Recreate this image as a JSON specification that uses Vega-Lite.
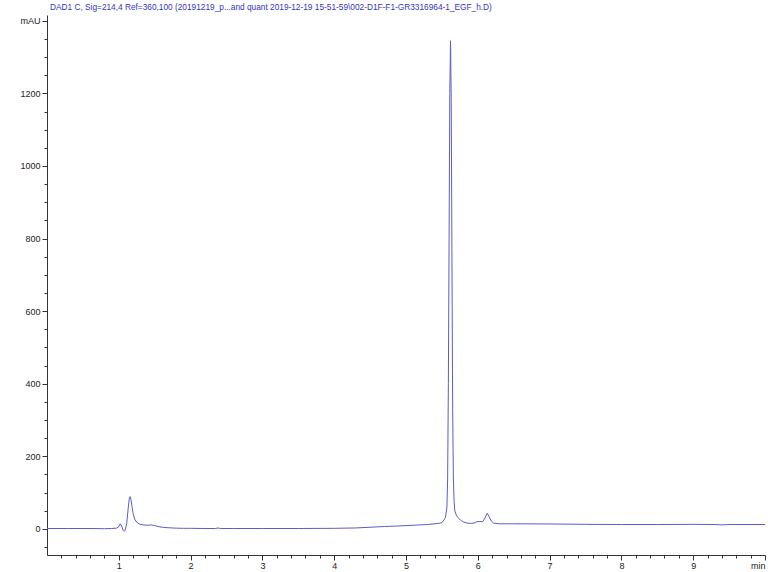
{
  "$schema": "https://vega.github.io/schema/vega-lite/v6.json",
  "width": 718,
  "height": 540,
  "autosize": "none",
  "padding": {"left": 47, "top": 15, "right": 3, "bottom": 17},
  "background": "white",
  "config": {
    "view": {"stroke": null},
    "font": "Liberation Sans"
  },
  "title": {
    "text": "DAD1 C, Sig=214,4 Ref=360,100 (20191219_p...and quant 2019-12-19 15-51-59\\002-D1F-F1-GR3316964-1_EGF_h.D)",
    "anchor": "start",
    "frame": "group",
    "dx": 3,
    "offset": 4,
    "fontSize": 8.3,
    "fontWeight": "normal",
    "font": "Liberation Sans",
    "color": "#3333c4"
  },
  "data": {
    "values": [
      {"t": 0.0, "v": 1}, {"t": 0.3, "v": 1}, {"t": 0.6, "v": 1}, {"t": 0.8, "v": 0.5},
      {"t": 0.9, "v": 1}, {"t": 0.97, "v": 2}, {"t": 1.0, "v": 6}, {"t": 1.02, "v": 14},
      {"t": 1.04, "v": 8}, {"t": 1.06, "v": -4}, {"t": 1.075, "v": -7}, {"t": 1.09, "v": -3},
      {"t": 1.11, "v": 15}, {"t": 1.13, "v": 55}, {"t": 1.145, "v": 82}, {"t": 1.157, "v": 89},
      {"t": 1.17, "v": 80}, {"t": 1.185, "v": 60}, {"t": 1.2, "v": 42}, {"t": 1.22, "v": 27},
      {"t": 1.25, "v": 18}, {"t": 1.29, "v": 13}, {"t": 1.34, "v": 11}, {"t": 1.4, "v": 10},
      {"t": 1.45, "v": 11}, {"t": 1.5, "v": 9}, {"t": 1.56, "v": 6}, {"t": 1.62, "v": 4},
      {"t": 1.7, "v": 3}, {"t": 1.8, "v": 2}, {"t": 1.9, "v": 1.5}, {"t": 2.0, "v": 1.5},
      {"t": 2.2, "v": 1}, {"t": 2.35, "v": 1}, {"t": 2.38, "v": 2.5}, {"t": 2.42, "v": 1},
      {"t": 2.6, "v": 1}, {"t": 3.0, "v": 1}, {"t": 3.5, "v": 1}, {"t": 4.0, "v": 1.5},
      {"t": 4.3, "v": 2.5}, {"t": 4.5, "v": 4.5}, {"t": 4.7, "v": 6.5}, {"t": 4.9, "v": 8},
      {"t": 5.1, "v": 10}, {"t": 5.3, "v": 12}, {"t": 5.45, "v": 15}, {"t": 5.5, "v": 17},
      {"t": 5.53, "v": 25}, {"t": 5.55, "v": 32}, {"t": 5.57, "v": 60}, {"t": 5.58, "v": 140},
      {"t": 5.59, "v": 400}, {"t": 5.6, "v": 800}, {"t": 5.61, "v": 1200}, {"t": 5.62, "v": 1345},
      {"t": 5.63, "v": 1180}, {"t": 5.64, "v": 750}, {"t": 5.65, "v": 330}, {"t": 5.66, "v": 140},
      {"t": 5.67, "v": 75}, {"t": 5.68, "v": 50}, {"t": 5.7, "v": 38}, {"t": 5.73, "v": 30},
      {"t": 5.76, "v": 24}, {"t": 5.8, "v": 19}, {"t": 5.85, "v": 16}, {"t": 5.9, "v": 15},
      {"t": 5.95, "v": 16}, {"t": 5.99, "v": 20}, {"t": 6.03, "v": 20}, {"t": 6.07, "v": 20},
      {"t": 6.1, "v": 30}, {"t": 6.13, "v": 43}, {"t": 6.16, "v": 33}, {"t": 6.19, "v": 21},
      {"t": 6.22, "v": 16}, {"t": 6.3, "v": 14}, {"t": 6.5, "v": 14}, {"t": 7.0, "v": 13.5},
      {"t": 7.5, "v": 12.5}, {"t": 8.0, "v": 12}, {"t": 8.5, "v": 12}, {"t": 9.0, "v": 12.5},
      {"t": 9.3, "v": 12}, {"t": 9.4, "v": 11}, {"t": 9.5, "v": 12}, {"t": 10.0, "v": 12}
    ]
  },
  "mark": {"type": "line", "color": "#5c5cc8", "strokeWidth": 1, "clip": true},
  "encoding": {
    "x": {
      "field": "t",
      "type": "quantitative",
      "scale": {"domain": [0, 10], "nice": false, "zero": false},
      "axis": {
        "title": null,
        "grid": false,
        "values": [0.2, 0.4, 0.6, 0.8, 1, 1.2, 1.4, 1.6, 1.8, 2, 2.2, 2.4, 2.6, 2.8, 3, 3.2, 3.4, 3.6, 3.8, 4, 4.2, 4.4, 4.6, 4.8, 5, 5.2, 5.4, 5.6, 5.8, 6, 6.2, 6.4, 6.6, 6.8, 7, 7.2, 7.4, 7.6, 7.8, 8, 8.2, 8.4, 8.6, 8.8, 9, 9.2, 9.4, 9.6, 9.8, 10],
        "labelExpr": "datum.value >= 9.99 ? 'min' : (abs(datum.value - round(datum.value)) < 0.01 ? '' + round(datum.value) : '')",
        "labelAlign": {"condition": {"test": "datum.value >= 9.99", "value": "right"}, "value": "center"},
        "labelOverlap": false,
        "labelBound": false,
        "labelFlush": false,
        "labelFont": "Liberation Sans",
        "labelFontSize": 9,
        "labelColor": "#222222",
        "labelPadding": 1,
        "domainColor": "#333333",
        "tickColor": "#333333",
        "tickSize": {"condition": {"test": "abs(datum.value - round(datum.value)) < 0.01", "value": 5}, "value": 3}
      }
    },
    "y": {
      "field": "v",
      "type": "quantitative",
      "scale": {"domain": [-72, 1416], "nice": false, "zero": false},
      "axis": {
        "title": null,
        "grid": false,
        "values": [-50, 0, 50, 100, 150, 200, 250, 300, 350, 400, 450, 500, 550, 600, 650, 700, 750, 800, 850, 900, 950, 1000, 1050, 1100, 1150, 1200, 1250, 1300, 1350, 1400],
        "labelExpr": "datum.value == 1400 ? 'mAU' : (datum.value % 200 == 0 ? '' + datum.value : '')",
        "labelOverlap": false,
        "labelBound": false,
        "labelFont": "Liberation Sans",
        "labelFontSize": 9,
        "labelColor": "#222222",
        "labelPadding": 2,
        "domainColor": "#333333",
        "tickColor": "#333333",
        "tickSize": {"condition": {"test": "datum.value % 200 == 0", "value": 5}, "value": 3}
      }
    }
  }
}
